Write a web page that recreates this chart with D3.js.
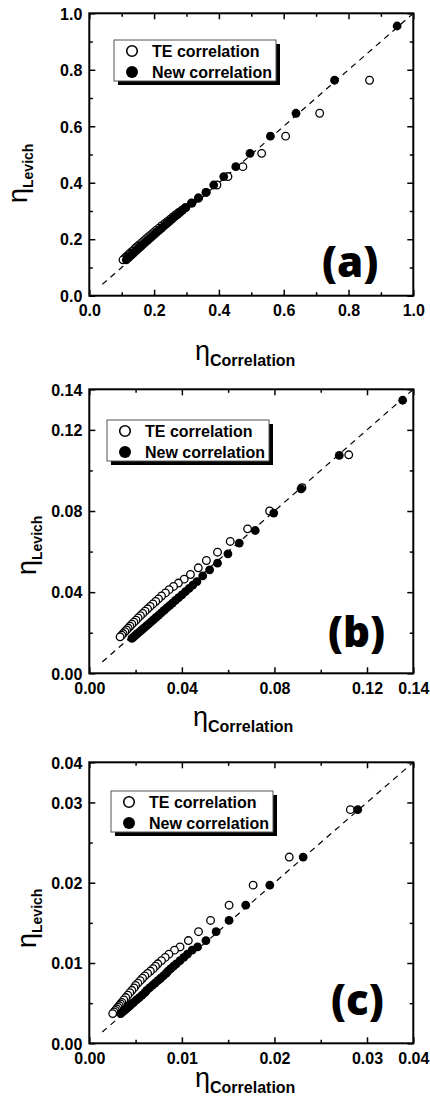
<!DOCTYPE html>
<html><head><meta charset="utf-8">
<script src="https://cdn.jsdelivr.net/npm/d3@7"></script>
<style>body{margin:0;background:#fff}svg{display:block}</style>
</head><body><svg id="chart" width="430" height="1100"></svg>
<script>
// ---------- DATA ----------
const seriesNames = ["TE correlation", "New correlation"];
const panelLetters = ["(a)", "(b)", "(c)"];

// panel (a)
const aDomain = [0, 1.0];
const aTicks = [0, 0.2, 0.4, 0.6, 0.8, 1.0];
const aTickLabels = ["0.0", "0.2", "0.4", "0.6", "0.8", "1.0"];
const aMinor = [0.1, 0.3, 0.5, 0.7, 0.9];
const aParity = [0.04, 1.0];
const aLevichTE = [0.955, 0.763, 0.646, 0.565, 0.504, 0.457, 0.422, 0.392, 0.366, 0.346, 0.328, 0.312,
  0.303, 0.295, 0.287, 0.279, 0.271, 0.263, 0.255, 0.247, 0.239, 0.231, 0.223, 0.216, 0.209, 0.202,
  0.195, 0.188, 0.181, 0.175, 0.169, 0.163, 0.157, 0.151, 0.146, 0.141, 0.136, 0.131, 0.127];
const aCorrTE = [null, 0.865, 0.711, 0.606, 0.532, 0.474, 0.428, 0.394, 0.361, 0.337, 0.315, 0.296,
  0.286, 0.276, 0.267, 0.258, 0.250, 0.241, 0.232, 0.223, 0.215, 0.206, 0.198, 0.191, 0.183, 0.176,
  0.169, 0.162, 0.155, 0.149, 0.143, 0.138, 0.132, 0.126, 0.122, 0.117, 0.112, 0.108, 0.104];
const aLevichNew = aLevichTE;
const aCorrNew = [0.950, 0.757, 0.638, 0.559, 0.496, 0.452, 0.415, 0.384, 0.360, 0.337, 0.317, 0.298,
  0.288, 0.280, 0.272, 0.263, 0.255, 0.247, 0.239, 0.231, 0.223, 0.215, 0.207, 0.200, 0.193, 0.186,
  0.179, 0.172, 0.165, 0.159, 0.154, 0.148, 0.142, 0.136, 0.132, 0.127, 0.122, 0.117, 0.114];

// panel (b)
const bDomain = [0, 0.14];
const bTicks = [0, 0.04, 0.08, 0.12, 0.14];
const bTickLabels = ["0.00", "0.04", "0.08", "0.12", "0.14"];
const bMinor = [0.02, 0.06, 0.10];
const bParity = [0.0056, 0.14];
const bLevichTE = [0.1346, 0.1077, 0.0915, 0.0800, 0.0712, 0.0650, 0.0597, 0.0556, 0.0520, 0.0487, 0.0464,
  0.0445, 0.0428, 0.0412, 0.0396, 0.0381, 0.0367,
  0.0354, 0.0342, 0.0330, 0.0318, 0.0306, 0.0295, 0.0284, 0.0273, 0.0262, 0.0252, 0.0242, 0.0232,
  0.0223, 0.0214, 0.0205, 0.0196, 0.0188, 0.0180];
const bCorrTE = [null, 0.1121, 0.0919, 0.0779, 0.0684, 0.0609, 0.0554, 0.0506, 0.0471, 0.0437, 0.0410,
  0.0385, 0.0364, 0.0345, 0.0329, 0.0312, 0.0299,
  0.0287, 0.0275, 0.0263, 0.0252, 0.0241, 0.0231, 0.0221, 0.0211, 0.0202, 0.0193, 0.0184, 0.0176,
  0.0168, 0.0161, 0.0154, 0.0146, 0.0140, 0.0133];
const bLevichNew = [0.1346, 0.1074, 0.0909, 0.0790, 0.0704, 0.0642, 0.0589, 0.0543, 0.0510, 0.0480, 0.0452,
  0.0434, 0.0418, 0.0402, 0.0387, 0.0373, 0.0359,
  0.0346, 0.0334, 0.0322, 0.0310, 0.0298, 0.0287, 0.0276, 0.0265, 0.0254, 0.0244, 0.0234, 0.0224,
  0.0215, 0.0206, 0.0197, 0.0188, 0.0180, 0.0172];
const bCorrNew = [0.1354, 0.1080, 0.0915, 0.0797, 0.0717, 0.0648, 0.0599, 0.0554, 0.0520, 0.0490, 0.0465,
  0.0447, 0.0431, 0.0415, 0.0400, 0.0386, 0.0372,
  0.0359, 0.0347, 0.0335, 0.0323, 0.0311, 0.0300, 0.0289, 0.0278, 0.0267, 0.0257, 0.0247, 0.0237,
  0.0228, 0.0219, 0.0209, 0.0200, 0.0192, 0.0184];

// panel (c)
const cDomain = [0, 0.035];
const cTicks = [0, 0.01, 0.02, 0.03, 0.035];
const cTickLabels = ["0.00", "0.01", "0.02", "0.03", "0.04"];
const cMinor = [0.005, 0.015, 0.025];
const cParity = [0.0014, 0.035];
const cLevichTE = [0.0291, 0.0232, 0.0197, 0.0172, 0.0153, 0.0139, 0.0128, 0.0120, 0.0116, 0.0111, 0.0107, 0.0103, 0.0099,
  0.0096, 0.0093, 0.0090, 0.0087, 0.0084, 0.0081, 0.0078, 0.0075, 0.0072, 0.0069, 0.0066, 0.0063,
  0.0060, 0.0057, 0.0054, 0.0051, 0.0049, 0.0047, 0.0045, 0.0043, 0.0041, 0.0039, 0.0037];
const cCorrTE = [0.0282, 0.0216, 0.0177, 0.0151, 0.0131, 0.0118, 0.0107, 0.0098, 0.0092, 0.0086, 0.0082, 0.0078, 0.0074,
  0.00715, 0.0069, 0.0066, 0.0063, 0.0060, 0.00575, 0.0055, 0.00525, 0.0050, 0.00483, 0.0046, 0.00438,
  0.00416, 0.00394, 0.00373, 0.00352, 0.00338, 0.00323, 0.00309, 0.00295, 0.00281, 0.00267, 0.00253];
const cLevichNew = cLevichTE;
const cCorrNew = [0.0290, 0.0231, 0.0195, 0.0169, 0.0151, 0.0137, 0.0126, 0.0117, 0.0111, 0.0106, 0.0102, 0.0098, 0.0094,
  0.0091, 0.0088, 0.0085, 0.0083, 0.0080, 0.0077, 0.0074, 0.0071, 0.0068, 0.0065, 0.0062, 0.0060,
  0.0057, 0.0054, 0.0051, 0.0048, 0.0046, 0.0044, 0.0042, 0.0040, 0.0038, 0.0036, 0.0034];

// ---------- LAYOUT ----------
const FONT = "'Liberation Sans', Arial, Helvetica, sans-serif";
const panels = [
  {letter: panelLetters[0], domain: aDomain, ticks: aTicks, labels: aTickLabels, minor: aMinor, parity: aParity,
   teY: aLevichTE, teX: aCorrTE, newY: aLevichNew, newX: aCorrNew,
   top: 13.3, bottom: 295.7, legend: [114, 40], xTitle: [195, 366], yTitle: [27, 203], letterPos: [322, 277]},
  {letter: panelLetters[1], domain: bDomain, ticks: bTicks, labels: bTickLabels, minor: bMinor, parity: bParity,
   teY: bLevichTE, teX: bCorrTE, newY: bLevichNew, newX: bCorrNew,
   top: 389.3, bottom: 673.3, legend: [107, 420], xTitle: [193, 732], yTitle: [36, 575], letterPos: [328, 647]},
  {letter: panelLetters[2], domain: cDomain, ticks: cTicks, labels: cTickLabels, minor: cMinor, parity: cParity,
   teY: cLevichTE, teX: cCorrTE, newY: cLevichNew, newX: cCorrNew,
   top: 762.3, bottom: 1043.3, legend: [111, 791], xTitle: [195, 1093], yTitle: [36, 948], letterPos: [331, 1015]}
];
const LEFT = 89.3, RIGHT = 413.3;

const svg = d3.select("#chart");
svg.append("rect").attr("width", 430).attr("height", 1100).attr("fill", "#fff");

function drawPanel(p) {
  const x = d3.scaleLinear().domain(p.domain).range([LEFT, RIGHT]);
  const y = d3.scaleLinear().domain(p.domain).range([p.bottom, p.top]);
  const g = svg.append("g");

  function axis(gen, tx, ty, vals, size, fmt) {
    const a = g.append("g").attr("transform", `translate(${tx},${ty})`)
      .call(gen.tickValues(vals).tickSize(size).tickSizeOuter(0).tickFormat(fmt));
    a.select(".domain").remove();
    a.selectAll("line").attr("stroke", "#000").attr("stroke-width", 1.5);
    a.attr("font-family", FONT).attr("font-size", 16).attr("font-weight", "bold");
    a.selectAll("text").attr("fill", "#000");
    return a;
  }
  const lab = (d, i) => p.labels[i];
  const none = () => "";
  const bx = axis(d3.axisBottom(x), 0, p.bottom, p.ticks, -6, lab);
  bx.selectAll("text").attr("y", 20.5).attr("dy", null);
  const ly = axis(d3.axisLeft(y), LEFT, 0, p.ticks, -6, lab);
  ly.selectAll("text").attr("x", -7).attr("dy", "0.36em");
  axis(d3.axisTop(x), 0, p.top, p.ticks, -6, none);
  axis(d3.axisRight(y), RIGHT, 0, p.ticks, -6, none);
  axis(d3.axisBottom(x), 0, p.bottom, p.minor, -3.5, none);
  axis(d3.axisTop(x), 0, p.top, p.minor, -3.5, none);
  axis(d3.axisLeft(y), LEFT, 0, p.minor, -3.5, none);
  axis(d3.axisRight(y), RIGHT, 0, p.minor, -3.5, none);

  g.append("rect").attr("x", LEFT).attr("y", p.top)
    .attr("width", RIGHT - LEFT).attr("height", p.bottom - p.top)
    .attr("fill", "none").attr("stroke", "#000").attr("stroke-width", 2);

  g.append("line")
    .attr("x1", x(p.parity[0])).attr("y1", y(p.parity[0]))
    .attr("x2", x(p.parity[1])).attr("y2", y(p.parity[1]))
    .attr("stroke", "#000").attr("stroke-width", 1.2).attr("stroke-dasharray", "6,5");

  const te = p.teX.map((v, i) => ({x: v, y: p.teY[i]})).filter(d => d.x != null);
  const nw = p.newX.map((v, i) => ({x: v, y: p.newY[i]})).filter(d => d.x != null);
  g.append("g").selectAll("circle").data(te).join("circle")
    .attr("cx", d => x(d.x)).attr("cy", d => y(d.y)).attr("r", 3.8)
    .attr("fill", "#fff").attr("stroke", "#000").attr("stroke-width", 1.3);
  g.append("g").selectAll("circle").data(nw).join("circle")
    .attr("cx", d => x(d.x)).attr("cy", d => y(d.y)).attr("r", 4.4)
    .attr("fill", "#000");

  const [lx, ly0] = p.legend;
  const lg = g.append("g").attr("transform", `translate(${lx},${ly0})`);
  lg.append("rect").attr("x", 4).attr("y", 4).attr("width", 162).attr("height", 41).attr("fill", "#000");
  lg.append("rect").attr("x", 0).attr("y", 0).attr("width", 162).attr("height", 41)
    .attr("fill", "#fff").attr("stroke", "#555").attr("stroke-width", 1);
  lg.append("circle").attr("cx", 18).attr("cy", 11).attr("r", 5.3)
    .attr("fill", "#fff").attr("stroke", "#000").attr("stroke-width", 1.6);
  lg.append("circle").attr("cx", 18).attr("cy", 32).attr("r", 6).attr("fill", "#000");
  lg.selectAll("text.leg").data(seriesNames).join("text").attr("class", "leg")
    .attr("x", 38).attr("y", (d, i) => 16.8 + i * 21)
    .attr("font-family", FONT).attr("font-size", 16).attr("font-weight", "bold")
    .attr("fill", "#000").text(d => d);

  const xt = g.append("text").attr("x", p.xTitle[0]).attr("y", p.xTitle[1] - 6)
    .attr("font-family", FONT).attr("fill", "#000");
  xt.append("tspan").attr("font-size", 27).text("η");
  xt.append("tspan").attr("dy", 6).attr("font-size", 16).attr("font-weight", "bold").text("Correlation");

  const yt = g.append("text")
    .attr("transform", `translate(${p.yTitle[0]},${p.yTitle[1]}) rotate(-90)`)
    .attr("font-family", FONT).attr("fill", "#000");
  yt.append("tspan").attr("font-size", 27).text("η");
  yt.append("tspan").attr("dy", 6).attr("font-size", 14).attr("font-weight", "bold").text("Levich");

  g.append("text").attr("x", p.letterPos[0]).attr("y", p.letterPos[1])
    .attr("font-family", "'Open Sans', 'DejaVu Sans', sans-serif").attr("font-weight", 800)
    .attr("font-size", 42).attr("fill", "#000").text(p.letter);
}

panels.forEach(drawPanel);
</script></body></html>
